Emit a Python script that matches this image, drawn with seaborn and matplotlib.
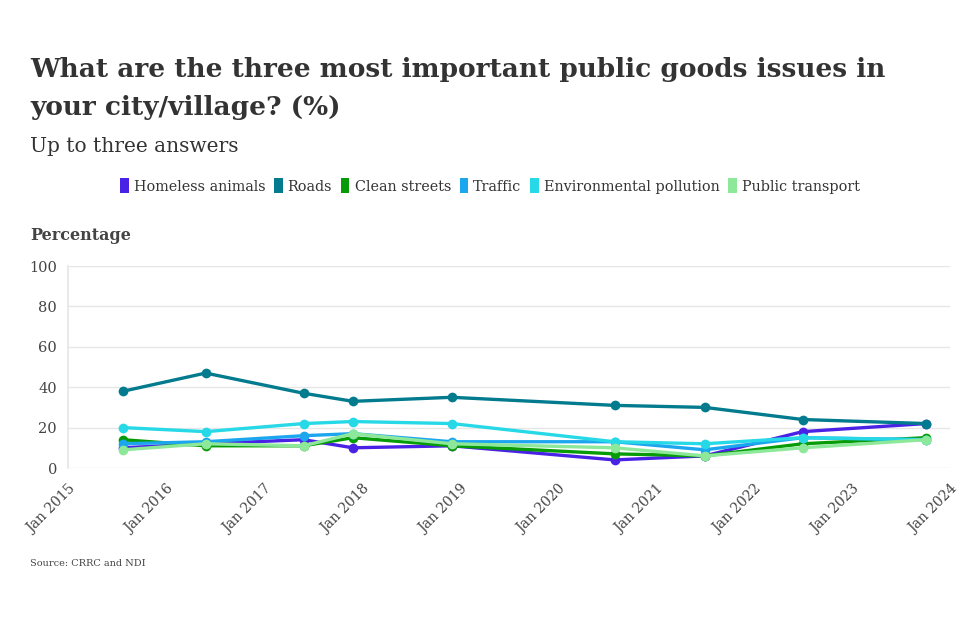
import matplotlib
matplotlib.use("Agg")
import matplotlib.pyplot as plt
from matplotlib.patches import Patch
import seaborn as sns
import pandas as pd

dates = ["2015-07-25", "2016-05-28", "2017-05-28", "2017-11-28", "2018-12-01",
         "2020-07-30", "2021-07-01", "2022-07-01", "2023-10-03"]
homeless_animals = [10, 12, 14, 10, 11, 4, 6, 18, 22]
roads = [38, 47, 37, 33, 35, 31, 30, 24, 22]
clean_streets = [14, 11, 11, 15, 11, 7, 6, 12, 15]
traffic = [12, 13, 16, 17, 13, 13, 9, 15, 14]
environmental_pollution = [20, 18, 22, 23, 22, 13, 12, 15, 14]
public_transport = [9, 12, 11, 17, 12, 10, 6, 10, 14]

series_names = ["Homeless animals", "Roads", "Clean streets", "Traffic",
                "Environmental pollution", "Public transport"]
series_values = [homeless_animals, roads, clean_streets, traffic,
                 environmental_pollution, public_transport]
colors = ["#4a22e6", "#027b8e", "#079c07", "#1ca6ee", "#27d9e6", "#8de89a"]

year_ticks = [f"{y}-01-01" for y in range(2015, 2025)]
year_labels = [f"Jan {y}" for y in range(2015, 2025)]
y_ticks = [0, 20, 40, 60, 80, 100]

rows = []
for name, vals in zip(series_names, series_values):
    for d, v in zip(dates, vals):
        rows.append({"date": pd.Timestamp(d), "value": v, "series": name})
df = pd.DataFrame(rows)

sns.set_theme(style="white")
serif = ["DejaVu Serif"]
plt.rcParams["font.family"] = serif

fig = plt.figure(figsize=(9.72, 6.18), dpi=100)
ax = fig.add_axes([68 / 972, 1 - 468 / 618, (950 - 68) / 972, (468 - 266) / 618])

sns.lineplot(data=df, x="date", y="value", hue="series", hue_order=series_names,
             palette=colors, marker="o", markersize=7, markeredgewidth=0,
             linewidth=2.4, legend=False, ax=ax)

ax.set_ylim(0, 100)
ax.set_xlim(pd.Timestamp(year_ticks[0]), pd.Timestamp(year_ticks[-1]))
ax.set_yticks(y_ticks)
ax.set_yticklabels([str(t) for t in y_ticks], fontsize=10.5, color="#444444")
ax.set_xticks([pd.Timestamp(t) for t in year_ticks])
ax.set_xticklabels(year_labels, rotation=45, ha="right", rotation_mode="anchor",
                   fontsize=10, color="#444444")
ax.tick_params(axis="x", length=6, color="#e6e6e6", width=1, pad=4)
ax.tick_params(axis="y", length=0, pad=8)
ax.grid(axis="y", color="#e6e6e6", linewidth=1)
for s in ["top", "right", "bottom"]:
    ax.spines[s].set_visible(False)
ax.spines["left"].set_color("#e6e6e6")
ax.set_xlabel("")
ax.set_ylabel("")

fig.text(30 / 972, 1 - 70 / 618, "What are the three most important public goods issues in",
         fontsize=19, fontweight="bold", color="#333333", va="center", ha="left")
fig.text(30 / 972, 1 - 108 / 618, "your city/village? (%)",
         fontsize=19, fontweight="bold", color="#333333", va="center", ha="left")
fig.text(30 / 972, 1 - 147 / 618, "Up to three answers",
         fontsize=14.5, color="#333333", va="center", ha="left")
fig.text(30 / 972, 1 - 236 / 618, "Percentage",
         fontsize=11.5, fontweight="bold", color="#444444", va="center", ha="left")
fig.text(30 / 972, 1 - 563 / 618, "Source: CRRC and NDI",
         fontsize=7, color="#444444", va="center", ha="left")

handles = [Patch(facecolor=c, edgecolor="none", label=n) for n, c in zip(series_names, colors)]
fig.legend(handles=handles, loc="center", bbox_to_anchor=(490 / 972, 1 - 186 / 618),
           ncol=6, frameon=False, fontsize=10.4, handlelength=0.6, handleheight=1.2,
           handletextpad=0.35, columnspacing=0.6, labelcolor="#333333")

fig.savefig("out.png", dpi=100)
